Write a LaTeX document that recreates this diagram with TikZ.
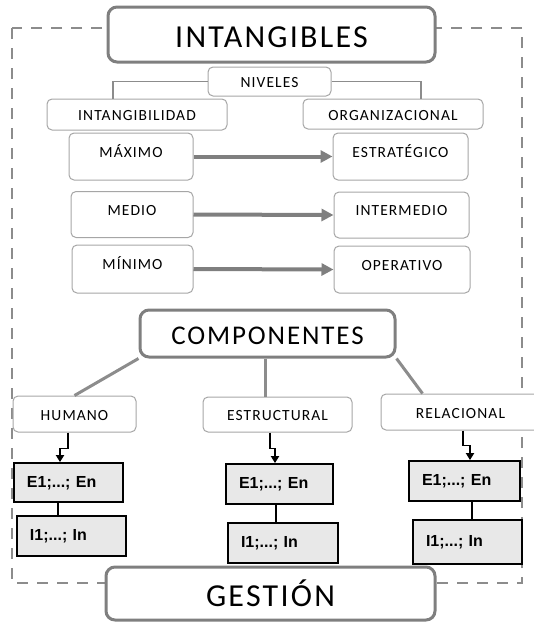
\documentclass[tikz,border=0pt]{standalone}
\usepackage{fontspec}
\setmainfont{Carlito}[LetterSpace=7]
\newfontfamily\arialb{Liberation Sans}
\usetikzlibrary{arrows.meta}
\definecolor{framec}{HTML}{8C8C8C}
\definecolor{bigb}{HTML}{7F7F7F}
\definecolor{smallb}{HTML}{A6A6A6}
\definecolor{efill}{HTML}{E8E8E8}
\definecolor{arrc}{HTML}{7F7F7F}
\tikzset{
  bigbox/.style={draw=bigb, line width=3pt, rounded corners=9pt, fill=white, inner sep=0pt,
    font=\fontsize{32}{32}\selectfont, text height=26pt, text depth=0pt},
  midbox/.style={bigbox, font=\fontsize{27}{27}\selectfont, text height=21pt},
  lblbox/.style={draw=smallb, line width=1pt, rounded corners=5pt, fill=white, inner sep=0pt,
    font=\fontsize{15.5}{15.5}\selectfont, text height=12pt, text depth=0pt},
  tallbox/.style={lblbox, text height=10pt, text depth=9pt},
  ebox/.style={draw=black, line width=1.8pt, fill=efill, inner xsep=13pt, inner ysep=0pt,
    font=\arialb\bfseries\fontsize{16}{16}\selectfont, align=left, text height=11pt, text depth=2pt},
  garrow/.style={draw=arrc, line width=4pt, -{Triangle[length=12pt,width=12pt]}},
  gline/.style={draw=framec, line width=1.5pt},
  cline/.style={draw=framec, line width=3pt},
  zz/.style={draw=black, line width=1.8pt, -{Triangle[length=7pt,width=8pt]}},
  kline/.style={draw=black, line width=1.8pt},
  frameline/.style={draw=framec, line width=2pt, dash pattern=on 11pt off 9pt}
}
\begin{document}
\begin{tikzpicture}[x=1pt,y=-1pt]
\useasboundingbox (0,0) rectangle (534,622);
\clip (0,0) rectangle (534,622);
\draw[frameline] (12,28) rectangle (522,583);

\node[bigbox, minimum width=327pt, minimum height=55pt] (intang) at (271.5,34.5) {INTANGIBLES};
\node[lblbox, minimum width=123pt, minimum height=29pt] (niv) at (269.5,81.5) {NIVELES};
\node[lblbox, minimum width=180pt, minimum height=31pt] (intg) at (137,114.5) {INTANGIBILIDAD};
\node[lblbox, minimum width=180pt, minimum height=30pt] (org) at (393,114) {ORGANIZACIONAL};

\node[tallbox, minimum width=124pt, minimum height=47pt] (max) at (131,156.5) {MÁXIMO};
\node[tallbox, minimum width=135pt, minimum height=47pt] (est) at (400.5,156.5) {ESTRATÉGICO};
\node[tallbox, minimum width=122pt, minimum height=46pt] (med) at (132,214.5) {MEDIO};
\node[tallbox, minimum width=135pt, minimum height=46pt] (inter) at (401.5,215) {INTERMEDIO};
\node[tallbox, minimum width=121pt, minimum height=48pt] (min) at (132.5,269) {MÍNIMO};
\node[tallbox, minimum width=136pt, minimum height=47pt] (ope) at (402,269.5) {OPERATIVO};

\draw[gline] (niv.west) -| ([xshift=-24pt]intg.north);
\draw[gline] (niv.east) -| ([xshift=28pt]org.north);

\draw[garrow] (max.east) -- (est.west);
\draw[garrow] (med.east) -- (inter.west);
\draw[garrow] (min.east) -- (ope.west);

\node[midbox, minimum width=255pt, minimum height=47pt] (comp) at (267.5,333.5) {COMPONENTES};
\node[lblbox, minimum width=123pt, minimum height=36pt] (hum) at (74.5,414) {HUMANO};
\node[lblbox, minimum width=149pt, minimum height=35pt] (estr) at (277.5,414.5) {ESTRUCTURAL};
\node[lblbox, minimum width=159pt, minimum height=36pt] (rel) at (460.5,412) {RELACIONAL};

\draw[cline] (comp.south west) -- (hum.north);
\draw[cline] ([xshift=-2.5pt]comp.south) -- ([xshift=-2.5pt]comp.south |- estr.north);
\draw[cline] (comp.south east) -- ([xshift=42pt]rel.north west);

\node[ebox, text width=83pt, minimum height=39pt] (e1) at (68.5,482.5) {E1;...; En};
\node[ebox, text width=83pt, minimum height=40pt] (i1) at (71.5,536) {I1;...; In};
\node[ebox, text width=81pt, minimum height=40pt] (e2) at (279.5,484) {E1;...; En};
\node[ebox, text width=84pt, minimum height=40pt] (i2) at (283,543) {I1;...; In};
\node[ebox, text width=85pt, minimum height=40pt] (e3) at (464.5,481) {E1;...; En};
\node[ebox, text width=83pt, minimum height=44pt] (i3) at (467.5,542) {I1;...; In};

\draw[zz] ([xshift=-6.5pt]hum.south) -- ++(0,16) -| ([xshift=-8.5pt]e1.north);
\draw[zz] ([xshift=-7.5pt]estr.south) -- ++(0,16) -| ([xshift=-4.5pt]e2.north);
\draw[zz] ([xshift=2.5pt]rel.south) -- ++(0,15) -| ([xshift=5.5pt]e3.north);

\draw[kline] ([xshift=-10.5pt]e1.south) -- ([xshift=-10.5pt]e1.south |- i1.north);
\draw[kline] ([xshift=-3.5pt]e2.south) -- ([xshift=-3.5pt]e2.south |- i2.north);
\draw[kline] ([xshift=7.5pt]e3.south) -- ([xshift=7.5pt]e3.south |- i3.north);

\node[bigbox, minimum width=329pt, minimum height=53pt] (gest) at (270.5,593.5) {GESTIÓN};
\end{tikzpicture}
\end{document}
